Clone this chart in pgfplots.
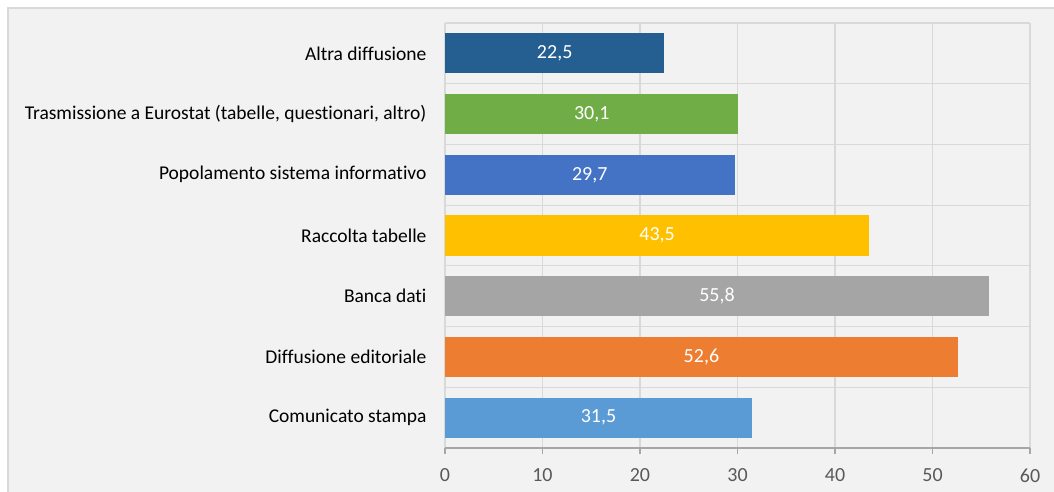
\documentclass[border=0pt]{standalone}
\usepackage{pgfplots}
\pgfplotsset{compat=1.18}
\usepackage{fontspec}
\setmainfont[Ligatures={NoCommon}]{Carlito}
\definecolor{bg}{HTML}{F2F2F2}
\definecolor{bordergray}{HTML}{D9D9D9}
\definecolor{gridgray}{HTML}{D9D9D9}
\definecolor{axisgray}{HTML}{A6A6A6}
\definecolor{ticktext}{HTML}{595959}
\definecolor{cA}{HTML}{255E91}
\definecolor{cT}{HTML}{70AD47}
\definecolor{cP}{HTML}{4472C4}
\definecolor{cR}{HTML}{FFC000}
\definecolor{cB}{HTML}{A5A5A5}
\definecolor{cD}{HTML}{ED7D31}
\definecolor{cC}{HTML}{5B9BD5}
\begin{document}
\begin{tikzpicture}
\path[use as bounding box] (-445pt,-43pt) rectangle (609pt,448pt);
\fill[white] (-445pt,-43pt) rectangle (609pt,448pt);
\filldraw[fill=bg,draw=bordergray,line width=1.2pt] (-437pt,-60pt) rectangle (630pt,440pt);
\begin{axis}[
  scale only axis, width=585pt, height=425pt,
  xmin=0, xmax=60, ymin=-0.5, ymax=6.5,
  xbar, bar width=0.66,
  xtick={0,10,...,60},
  ytick={0,...,6},
  yticklabels={Comunicato stampa, Diffusione editoriale, Banca dati, Raccolta tabelle, Popolamento sistema informativo, {Trasmissione a Eurostat (tabelle, questionari, altro)}, Altra diffusione},
  minor ytick={-0.5,0.5,...,6.5},
  xmajorgrids=true, yminorgrids=true,
  grid style={gridgray, line width=1.2pt},
  minor grid style={gridgray, line width=1.2pt},
  axis lines*=left,
  x axis line style={axisgray, line width=1.2pt},
  y axis line style={draw=none},
  tick align=outside,
  major tick length=6pt, minor tick length=0pt,
  xtick style={axisgray, line width=1.2pt},
  ytick style={draw=none},
  /pgf/number format/assume math mode=true,
  x tick label style={font=\fontsize{20}{24}\selectfont, text=ticktext, yshift=-11pt},
  y tick label style={font=\fontsize{19.5}{23}\selectfont, text=black, xshift=-9pt},
  point meta=x,
  visualization depends on={x/2 \as \halfx},
  nodes near coords={\pgfmathprintnumber[fixed,fixed zerofill,precision=1,use comma]{\pgfplotspointmeta}},
  every node near coord/.append style={anchor=center, text=white, font=\fontsize{20}{24}\selectfont, shift={(axis direction cs:-\halfx,0)}},
  clip=false,
]
\addplot[fill=cC, draw=none, bar shift=0pt] coordinates {(31.5,0)};
\addplot[fill=cD, draw=none, bar shift=0pt] coordinates {(52.6,1)};
\addplot[fill=cB, draw=none, bar shift=0pt] coordinates {(55.8,2)};
\addplot[fill=cR, draw=none, bar shift=0pt] coordinates {(43.5,3)};
\addplot[fill=cP, draw=none, bar shift=0pt] coordinates {(29.7,4)};
\addplot[fill=cT, draw=none, bar shift=0pt] coordinates {(30.1,5)};
\addplot[fill=cA, draw=none, bar shift=0pt] coordinates {(22.5,6)};
\end{axis}
\end{tikzpicture}
\end{document}
